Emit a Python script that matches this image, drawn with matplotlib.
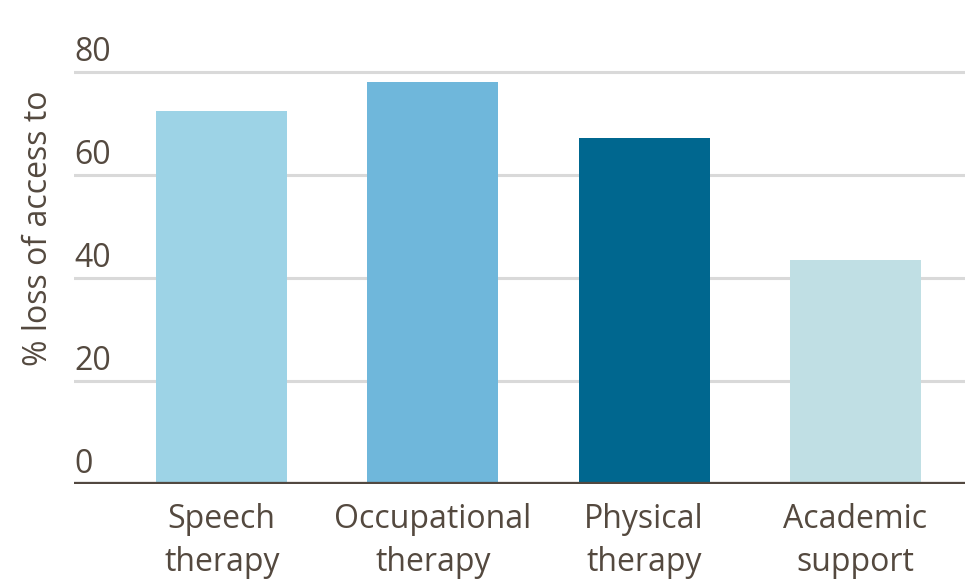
import matplotlib
matplotlib.use("Agg")
import matplotlib.pyplot as plt
from matplotlib.transforms import blended_transform_factory, offset_copy

categories = ["Speech\ntherapy", "Occupational\ntherapy", "Physical\ntherapy", "Academic\nsupport"]
values = [72.4, 78.0, 67.2, 43.5]
colors = ["#9dd3e6", "#6fb7db", "#00678f", "#c0dfe4"]
yticks = [0, 20, 40, 60, 80]
ylabel = "% loss of access to"

text_color = "#54493f"
plt.rcParams['font.family'] = ['Open Sans', 'DejaVu Sans']
FS = 23

fig = plt.figure(figsize=(9.75, 5.87), dpi=100)
ax = fig.add_axes([74/975, 1-484/587, (965-74)/975, (484-61.7)/587])
ax.set_xlim(-0.70, 3.52)
ax.set_ylim(0, 82)

x = list(range(len(categories)))
ax.bar(x, values, width=0.62, color=colors, zorder=2)

for t in yticks[1:]:
    ax.axhline(t, color="#d9d9d9", lw=2.2, zorder=1)
ax.axhline(0, color="#524840", lw=3.8, zorder=3)

trans = blended_transform_factory(ax.transAxes, ax.transData)
for t in yticks:
    ax.text(0.0, t, str(t), transform=offset_copy(trans, fig=fig, x=0, y=11, units='dots'),
            ha='left', va='baseline', fontsize=FS, color=text_color)

ax.set_xticks(x)
ax.set_xticklabels(categories, fontsize=FS, color=text_color, linespacing=1.4)
ax.tick_params(axis='x', length=0, pad=14)
ax.set_yticks([])
for s in ax.spines.values():
    s.set_visible(False)

fig.text(39/975, 1-228/587, ylabel, rotation=90, ha='center', va='center',
         fontsize=FS, color=text_color)

fig.savefig("out.png", dpi=100)
